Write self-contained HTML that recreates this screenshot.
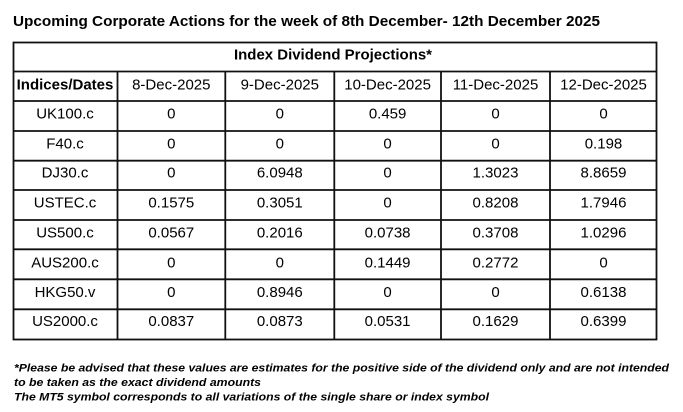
<!DOCTYPE html>
<html>
<head>
<meta charset="utf-8">
<style>
html,body{margin:0;padding:0;background:#fff;}
svg{display:block;}
text{font-family:"Liberation Sans",Arial,sans-serif;fill:#000;}
.b{font-weight:bold;}
.c{text-anchor:middle;font-size:15px;}
.f{font-size:11px;font-weight:bold;font-style:italic;}
</style>
</head>
<body>
<svg width="683" height="412" viewBox="0 0 683 412" xmlns="http://www.w3.org/2000/svg">
<rect width="683" height="412" fill="#fff"/>
<text x="13" y="26" class="b" font-size="15" textLength="587" lengthAdjust="spacingAndGlyphs">Upcoming Corporate Actions for the week of 8th December- 12th December 2025</text>

<g stroke="#111" stroke-width="1.8" fill="none">
<rect x="13.5" y="42.5" width="643" height="297"/>
<line x1="13" y1="71.5" x2="657" y2="71.5"/>
<line x1="13" y1="101" x2="657" y2="101"/>
<line x1="13" y1="131" x2="657" y2="131"/>
<line x1="13" y1="160.7" x2="657" y2="160.7"/>
<line x1="13" y1="190" x2="657" y2="190"/>
<line x1="13" y1="220" x2="657" y2="220"/>
<line x1="13" y1="249.3" x2="657" y2="249.3"/>
<line x1="13" y1="279.3" x2="657" y2="279.3"/>
<line x1="13" y1="309.3" x2="657" y2="309.3"/>
<line x1="117.5" y1="71.5" x2="117.5" y2="340"/>
<line x1="225.3" y1="71.5" x2="225.3" y2="340"/>
<line x1="334.3" y1="71.5" x2="334.3" y2="340"/>
<line x1="441" y1="71.5" x2="441" y2="340"/>
<line x1="550" y1="71.5" x2="550" y2="340"/>
</g>

<text x="333" y="59.3" class="b c" textLength="198" lengthAdjust="spacingAndGlyphs">Index Dividend Projections*</text>

<g class="c">
<text x="65" y="89.3" class="b c">Indices/Dates</text>
<text x="171.3" y="89.3" class="c">8-Dec-2025</text>
<text x="279.8" y="89.3" class="c">9-Dec-2025</text>
<text x="387.6" y="89.3" class="c">10-Dec-2025</text>
<text x="495.5" y="89.3" class="c">11-Dec-2025</text>
<text x="603.5" y="89.3" class="c">12-Dec-2025</text>
</g>

<g>
<text x="65" y="118.4" class="c">UK100.c</text>
<text x="171.3" y="118.4" class="c">0</text>
<text x="279.8" y="118.4" class="c">0</text>
<text x="387.6" y="118.4" class="c">0.459</text>
<text x="495.5" y="118.4" class="c">0</text>
<text x="603.5" y="118.4" class="c">0</text>

<text x="65" y="148.3" class="c">F40.c</text>
<text x="171.3" y="148.3" class="c">0</text>
<text x="279.8" y="148.3" class="c">0</text>
<text x="387.6" y="148.3" class="c">0</text>
<text x="495.5" y="148.3" class="c">0</text>
<text x="603.5" y="148.3" class="c">0.198</text>

<text x="65" y="177.4" class="c">DJ30.c</text>
<text x="171.3" y="177.4" class="c">0</text>
<text x="279.8" y="177.4" class="c">6.0948</text>
<text x="387.6" y="177.4" class="c">0</text>
<text x="495.5" y="177.4" class="c">1.3023</text>
<text x="603.5" y="177.4" class="c">8.8659</text>

<text x="65" y="207.3" class="c">USTEC.c</text>
<text x="171.3" y="207.3" class="c">0.1575</text>
<text x="279.8" y="207.3" class="c">0.3051</text>
<text x="387.6" y="207.3" class="c">0</text>
<text x="495.5" y="207.3" class="c">0.8208</text>
<text x="603.5" y="207.3" class="c">1.7946</text>

<text x="65" y="237.3" class="c">US500.c</text>
<text x="171.3" y="237.3" class="c">0.0567</text>
<text x="279.8" y="237.3" class="c">0.2016</text>
<text x="387.6" y="237.3" class="c">0.0738</text>
<text x="495.5" y="237.3" class="c">0.3708</text>
<text x="603.5" y="237.3" class="c">1.0296</text>

<text x="65" y="267.3" class="c">AUS200.c</text>
<text x="171.3" y="267.3" class="c">0</text>
<text x="279.8" y="267.3" class="c">0</text>
<text x="387.6" y="267.3" class="c">0.1449</text>
<text x="495.5" y="267.3" class="c">0.2772</text>
<text x="603.5" y="267.3" class="c">0</text>

<text x="65" y="296.8" class="c">HKG50.v</text>
<text x="171.3" y="296.8" class="c">0</text>
<text x="279.8" y="296.8" class="c">0.8946</text>
<text x="387.6" y="296.8" class="c">0</text>
<text x="495.5" y="296.8" class="c">0</text>
<text x="603.5" y="296.8" class="c">0.6138</text>

<text x="65" y="326.2" class="c">US2000.c</text>
<text x="171.3" y="326.2" class="c">0.0837</text>
<text x="279.8" y="326.2" class="c">0.0873</text>
<text x="387.6" y="326.2" class="c">0.0531</text>
<text x="495.5" y="326.2" class="c">0.1629</text>
<text x="603.5" y="326.2" class="c">0.6399</text>
</g>

<text x="14" y="371.7" class="f" textLength="655" lengthAdjust="spacingAndGlyphs">*Please be advised that these values are estimates for the positive side of the dividend only and are not intended</text>
<text x="14" y="386.2" class="f" textLength="247" lengthAdjust="spacingAndGlyphs">to be taken as the exact dividend amounts</text>
<text x="14" y="400.7" class="f" textLength="475" lengthAdjust="spacingAndGlyphs">The MT5 symbol corresponds to all variations of the single share or index symbol</text>
</svg>
</body>
</html>
